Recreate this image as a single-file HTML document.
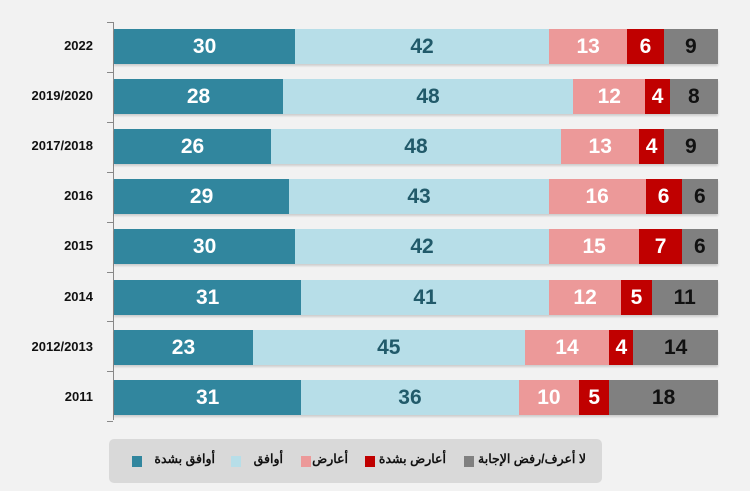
<!DOCTYPE html><html><head><meta charset="utf-8"><style>
body{margin:0;width:750px;height:491px;background:#f2f2f2;font-family:"Liberation Sans","Noto Sans CJK SC",sans-serif;position:relative;overflow:hidden}
.y{position:absolute;right:657px;font-size:13px;font-weight:bold;color:#111;text-align:right;white-space:nowrap}
.r{position:absolute;left:114px;height:35px;display:flex;box-shadow:0 2px 2px rgba(0,0,0,.15)}
.r div{height:35px;line-height:35px;text-align:center;font-weight:bold;font-size:21px;overflow:hidden}
.a{background:#31869e;color:#fff}.b{background:#b7dee8;color:#215a6a}.c{background:#ec9999;color:#fff}.d{background:#c00000;color:#fff}.e{background:#808080;color:#111}
.ax{position:absolute;left:113px;top:22px;width:1px;height:398px;background:#888}
.t{position:absolute;left:107px;width:6px;height:1px;background:#888}
.lg{position:absolute;left:109px;top:439px;width:493px;height:44px;background:#d9d9d9;border-radius:5px}
.sq{position:absolute;top:456px;width:10px;height:11px}
.lt{position:absolute;top:451px;font-size:12.5px;font-weight:bold;color:#111;direction:rtl;white-space:nowrap}
</style></head><body>
<div class="ax"></div>
<div id="c"></div>
<div class="lg"></div>
<div class="sq" style="left:464px;background:#808080"></div><div class="lt" style="right:164px">لا أعرف/رفض الإجابة</div>
<div class="sq" style="left:365px;background:#c00000"></div><div class="lt" style="right:304px">أعارض بشدة</div>
<div class="sq" style="left:301px;background:#ec9999"></div><div class="lt" style="right:402px">أعارض</div>
<div class="sq" style="left:231px;background:#b7dee8"></div><div class="lt" style="right:467px">أوافق</div>
<div class="sq" style="left:132px;background:#31869e"></div><div class="lt" style="right:535px">أوافق بشدة</div>
<script>
var d=[["2022",[30,42,13,6,9]],["2019/2020",[28,48,12,4,8]],["2017/2018",[26,48,13,4,9]],["2016",[29,43,16,6,6]],["2015",[30,42,15,7,6]],["2014",[31,41,12,5,11]],["2012/2013",[23,45,14,4,14]],["2011",[31,36,10,5,18]]];
var h="",cl="abcde";
for(var i=0;i<=8;i++)h+='<div class="t" style="top:'+(22+i*49.9)+'px"></div>';
d.forEach(function(r,i){var top=29+i*50.1;h+='<div class="y" style="top:'+(top+9)+'px">'+r[0]+'</div><div class="r" style="top:'+top+'px">';
r[1].forEach(function(v,j){h+='<div class="'+cl[j]+'" style="width:'+(v*6.04)+'px">'+v+'</div>'});h+='</div>'});
document.getElementById("c").innerHTML=h;
</script></body></html>
